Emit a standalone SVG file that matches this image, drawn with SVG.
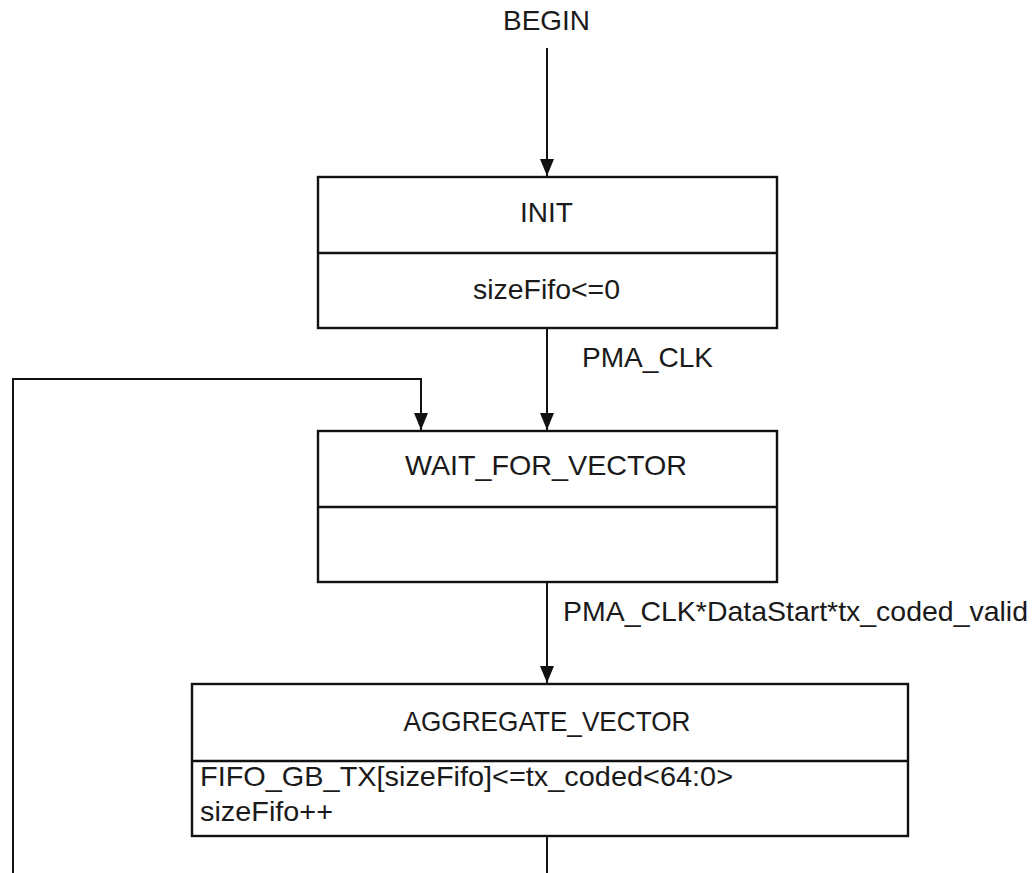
<svg xmlns="http://www.w3.org/2000/svg" width="1033" height="873" viewBox="0 0 1033 873">
<style>
text{font-family:"Liberation Sans",Arial,sans-serif;font-size:28px;fill:#1a1a1a}
.box{fill:#fff;stroke:#111;stroke-width:2.4}
.div{stroke:#111;stroke-width:2.4}
.c{text-anchor:middle}
.edge{fill:none;stroke:#111;stroke-width:2}
.arr{marker-end:url(#arr)}
</style>
<defs>
<marker id="arr" markerWidth="17" markerHeight="14" refX="17" refY="7" orient="auto" markerUnits="userSpaceOnUse" viewBox="0 0 17 14">
<path d="M0,0 L17,7 L0,14 Z" fill="#111"/>
</marker>
</defs>
<rect width="1033" height="873" fill="#fff"/>
<g id="connectors">
<path class="edge arr" d="M547,48 L547,176"/>
<path class="edge arr" d="M547,328 L547,430"/>
<text x="582" y="367" textLength="131" lengthAdjust="spacingAndGlyphs">PMA_CLK</text>
<path class="edge arr" d="M13,873 L13,379 L421,379 L421,430"/>
<path class="edge arr" d="M547,582 L547,683"/>
<text x="563" y="621" textLength="465" lengthAdjust="spacingAndGlyphs">PMA_CLK*DataStart*tx_coded_valid</text>
<path class="edge" d="M547,836 L547,873"/>
</g>
<g id="begin">
<text class="c" x="546.5" y="30" textLength="87" lengthAdjust="spacingAndGlyphs">BEGIN</text>
</g>
<g id="init">
<rect class="box" x="318" y="177" width="459" height="151"/>
<line class="div" x1="318" y1="253" x2="777" y2="253"/>
<text class="c" x="546.5" y="222">INIT</text>
<text class="c" x="546.5" y="299" textLength="147" lengthAdjust="spacingAndGlyphs">sizeFifo&lt;=0</text>
</g>
<g id="wait_for_vector">
<rect class="box" x="318" y="431" width="459" height="151"/>
<line class="div" x1="318" y1="507" x2="777" y2="507"/>
<text class="c" x="546" y="475" textLength="282" lengthAdjust="spacingAndGlyphs">WAIT_FOR_VECTOR</text>
</g>
<g id="aggregate_vector">
<rect class="box" x="192" y="684" width="716" height="152"/>
<line class="div" x1="192" y1="761" x2="908" y2="761"/>
<text class="c" x="547" y="731" textLength="287" lengthAdjust="spacingAndGlyphs">AGGREGATE_VECTOR</text>
<text x="200" y="786" textLength="533" lengthAdjust="spacingAndGlyphs">FIFO_GB_TX[sizeFifo]&lt;=tx_coded&lt;64:0&gt;</text>
<text x="200" y="821" textLength="133" lengthAdjust="spacingAndGlyphs">sizeFifo++</text>
</g>
</svg>
